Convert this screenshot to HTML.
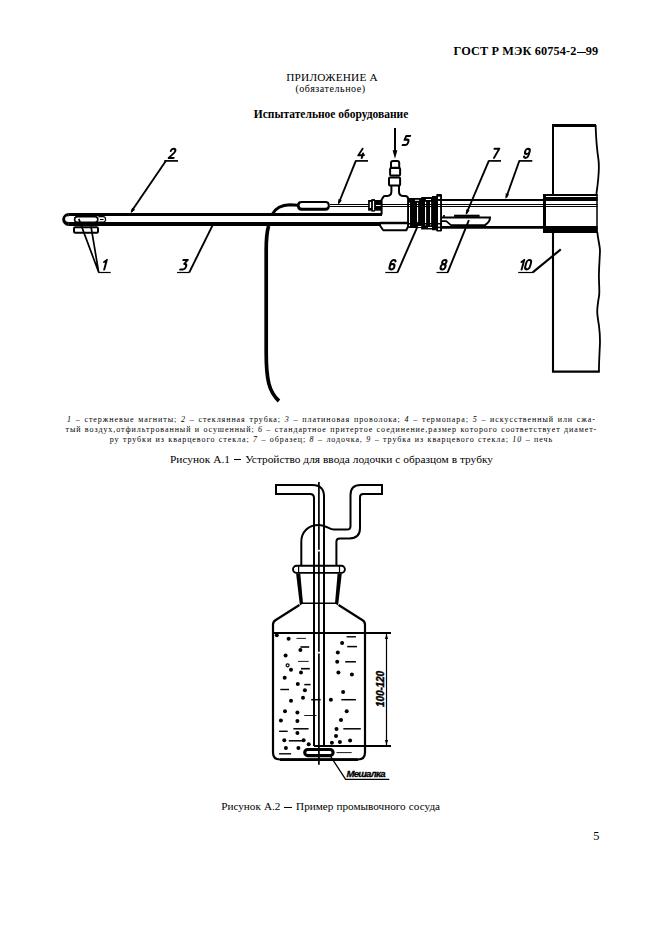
<!DOCTYPE html>
<html><head><meta charset="utf-8">
<style>
html,body{margin:0;padding:0;background:#fff;}
body{width:661px;height:936px;position:relative;overflow:hidden;font-family:"Liberation Serif",serif;color:#000;}
.t{position:absolute;white-space:nowrap;line-height:1;}
svg{position:absolute;left:0;top:0;}
.c{font-size:8px;letter-spacing:0.93px;}
.d{display:inline-block;height:0;border-top:0.9px solid #000;vertical-align:2.5px;}
</style></head><body>
<div class="t" id="hdr" style="left:453.5px;top:44.9px;font-size:12.3px;font-weight:bold;letter-spacing:0.12px;">ГОСТ Р МЭК 60754-2<span class="d" style="width:8.6px;border-top-width:1.4px;margin:0 0.2px 0 0.4px;vertical-align:1.8px"></span>99</div>
<div class="t" id="app" style="left:286.2px;top:72px;font-size:11.3px;letter-spacing:0.2px;">ПРИЛОЖЕНИЕ А</div>
<div class="t" id="obl" style="left:295.4px;top:84.4px;font-size:10px;letter-spacing:0.55px;">(обязательное)</div>
<div class="t" id="ttl" style="left:253.8px;top:108.6px;font-size:11.5px;font-weight:bold;">Испытательное оборудование</div>
<div class="t c" id="c1" style="left:67px;top:416.3px;word-spacing:0.87px;"><i>1</i> – стержневые магниты; <i>2</i> – стеклянная трубка; <i>3</i> – платиновая проволока; <i>4</i> – термопара; <i>5</i> – искусственный или сжа-</div>
<div class="t c" id="c2" style="left:65.5px;top:426.3px;word-spacing:0.5px;">тый воздух,отфильтрованный и осушенный; <i>6</i> – стандартное притертое соединение,размер которого соответствует диамет-</div>
<div class="t c" id="c3" style="left:109.7px;top:436.4px;word-spacing:0.53px;">ру трубки из кварцевого стекла; <i>7</i> – образец; <i>8</i> – лодочка, <i>9</i> – трубка из кварцевого стекла; <i>10</i> – печь</div>
<div class="t" id="f1" style="left:170px;top:453.6px;font-size:11.35px;word-spacing:0.17px;">Рисунок А.1 <span class="d" style="width:7.7px;margin:0 0.8px;"></span> Устройство для ввода лодочки с образцом в трубку</div>
<div class="t" id="f2" style="left:221.2px;top:801.2px;font-size:11.2px;word-spacing:0.36px;">Рисунок А.2 <span class="d" style="width:7.7px;margin:0 0.8px;"></span> Пример промывочного сосуда</div>
<div class="t" id="pn" style="left:593.2px;top:829.5px;font-size:12.3px;">5</div>
<div class="t" id="msh" style="left:346.6px;top:769.3px;font-size:9.6px;font-family:'Liberation Sans',sans-serif;font-weight:bold;font-style:italic;letter-spacing:-0.78px;-webkit-text-stroke:0.3px #000;">Мешалка</div>
<div class="t" id="dim" style="left:381px;top:688.9px;font-size:10.2px;font-family:'Liberation Sans',sans-serif;font-weight:bold;font-style:italic;letter-spacing:-0.2px;-webkit-text-stroke:0.4px #000;transform:translate(-50%,-50%) rotate(-90deg);">100-120</div>
<svg id="s1" width="661" height="936" viewBox="0 0 661 936" fill="none" stroke="#000">
<path d="M382,214.5 L68.5,214.5" stroke-width="3"/><path d="M68.7,213 A6.5,6.5 0 0 0 68.7,226 Z M68.7,216 A3.6,3 0 0 0 68.7,222 Z" fill="#000" fill-rule="evenodd" stroke="none"/>
<path d="M68.5,224 L381,224" stroke-width="4"/>
<rect x="74.6" y="216.6" width="23.2" height="5.6" rx="2.8" stroke-width="1.6"/>
<path d="M98.4,216.6 H103 A2.6,2.8 0 0 1 103,222.2 H98.4 M100,219.5 H103.5" stroke-width="1.2"/>
<rect x="74" y="227.2" width="24" height="5.6" rx="1.2" stroke-width="2"/>
<path d="M78.8,218.9 L98.7,272.3 M91,226.5 L98.7,272.3" stroke-width="1.7"/><path d="M98.2,272.5 H110.7" stroke-width="1.2"/>
<path d="M1.1,2.1 L3.4,0 L3.4,10" transform="matrix(0.950,0,-0.257,0.950,103.56,259.90)" stroke-width="2.11" stroke-linejoin="round" stroke-linecap="round"/>
<path d="M165.8,161 L131.4,211.5" stroke-width="1.9"/><path d="M164.3,160.9 H178" stroke-width="1.7"/>
<polygon points="130.6,213.2 132.1,207.7 135.1,209.7" fill="#000" stroke="none"/>
<path d="M0.3,2.4 C0.3,0.8 1.4,0 2.8,0 C4.2,0 5.2,0.9 5.2,2.4 C5.2,4.2 3.4,5.8 0,10 L5.4,10" transform="matrix(0.910,0,-0.246,0.910,171.16,148.80)" stroke-width="2.20" stroke-linejoin="round" stroke-linecap="round"/>
<path d="M189.3,272.3 L212.8,224.8" stroke-width="1.9"/><path d="M177,272.5 H189.6" stroke-width="1.2"/>
<path d="M0.6,0 L5.3,0 L2.6,4 C4.5,4 5.4,5.2 5.4,6.8 C5.4,8.8 4.3,10 2.9,10 L0,10" transform="matrix(0.950,0,-0.257,0.950,182.76,259.90)" stroke-width="2.11" stroke-linejoin="round" stroke-linecap="round"/>
<path d="M268.6,226 C266.8,232 266.2,240 266.2,250 L266.2,352 C266.2,380 269,392 279,401" stroke-width="3.7"/>
<path d="M272.3,214.2 C275,209 280.5,204.9 290,204.7 L298,205.3" stroke-width="2.9"/>
<path d="M301.5,201 H325.40000000000003 Q329.8,201 329.8,205.4 V206.29999999999998 Q329.8,210.7 325.40000000000003,210.7 H301.5 Q297.1,210.7 297.1,206.29999999999998 V205.4 Q297.1,201 301.5,201 Z M301.90000000000003,202.9 H325.5 Q327.8,202.9 327.8,205.20000000000002 V205.5 Q327.8,207.8 325.5,207.8 H301.90000000000003 Q299.6,207.8 299.6,205.5 V205.20000000000002 Q299.6,202.9 301.90000000000003,202.9 Z" fill="#000" fill-rule="evenodd" stroke="none"/>
<path d="M329.8,204.5 H368.5 M329.8,206.5 H368.5" stroke-width="1"/>
<path d="M355.8,160.8 L338.8,203" stroke-width="1.9"/><path d="M355.2,160.9 H368" stroke-width="1.7"/>
<polygon points="338.1,204.8 338.4,199.1 341.8,200.5" fill="#000" stroke="none"/>
<path d="M2.7,0 L0,7.2 L6.2,7.2 M4.6,5.2 L4.6,10" transform="matrix(0.910,0,-0.246,0.910,360.06,148.80)" stroke-width="2.20" stroke-linejoin="round" stroke-linecap="round"/>
<path d="M395,127.9 V153" stroke-width="2"/>
<polygon points="395.0,158.7 392.6,150.2 397.4,150.2" fill="#000" stroke="none"/>
<path d="M5.6,0 L1.3,0 L0.6,4.3 L3.3,3.9 C4.8,3.9 5.4,5 5.4,6.4 C5.4,8.6 4.3,10 2.9,10 L0,10" transform="matrix(0.910,0,-0.246,0.910,405.06,135.90)" stroke-width="2.20" stroke-linejoin="round" stroke-linecap="round"/>
<g stroke="none"><rect x="368.1" y="200" width="13.6" height="10.7" fill="#000"/><rect x="371.3" y="199.1" width="3.7" height="12.5" fill="#000"/><rect x="369.8" y="201.9" width="1.3" height="6.1" fill="#fff"/><rect x="372.9" y="200.9" width="1.2" height="9.3" fill="#fff"/><rect x="375.9" y="205" width="5.2" height="1" fill="#fff"/></g>
<path d="M391,167.8 V163.1 Q391,161.1 393,161.1 H397.2 Q399.2,161.1 399.2,163.1 V167.8 Z" stroke-width="2"/>
<rect x="390.1" y="168" width="10" height="7.6" rx="1" stroke-width="2"/>
<rect x="389" y="177.6" width="11.1" height="7.9" rx="1" stroke-width="2"/>
<path d="M391.4,186 V191.5 Q391.4,195.8 387.2,195.9 H385 Q384,195.9 383.4,196.8 L381.6,199.8 V214.5 M399,186 V191.5 Q399,195.8 403,195.9 H405 Q408.1,195.9 408.1,199 V226.5 L406.3,230.2 H383.2 L378.8,223.8" stroke-width="2" stroke-linejoin="round"/>
<path d="M380,223 H407.5" stroke-width="2.5"/>
<path d="M381,204.5 H597.6 M381,206.5 H597.6" stroke-width="1"/>
<path d="M408.4,198 H421.2 V197 H432 V196 H436.2 V195 Q436.2,194 437.2,194 H441 Q442,194 442,195 V230.6 Q442,231.6 441,231.6 H437.2 Q436.2,231.6 436.2,230.6 V230.3 H432 V229.4 H421.2 V228.1 H408.4 Z" fill="#000" stroke="none"/>
<g fill="#fff" stroke="none"><rect x="409" y="202.7" width="1" height="23.5"/><rect x="417" y="202.7" width="1.1" height="19.4"/><rect x="425" y="201.8" width="1.1" height="23.5"/><rect x="430" y="201.8" width="1.1" height="23.5"/><rect x="438" y="196.7" width="2.1" height="33.3"/><rect x="414.9" y="199.8" width="4.2" height="1"/><rect x="425.9" y="199" width="5.1" height="1"/><rect x="417.9" y="226" width="3.3" height="1"/><rect x="428" y="227" width="4" height="1"/></g>
<path d="M407.8,204.5 H442 M407.8,206.5 H442" stroke-width="1"/>
<path d="M408,223.7 H442" stroke-width="1.6"/>
<path d="M437,200 H442" stroke-width="2"/><path d="M437,227.4 H442" stroke-width="1.6"/>
<path d="M397.5,272.3 L417,227.6" stroke-width="1.9"/><path d="M385.3,272.5 H397.8" stroke-width="1.2"/>
<path d="M5,1.6 C4.6,0.5 3.8,0 2.8,0 C1.1,0 0.2,1.4 0.2,3.6 L0.2,7 C0.2,9 1.2,10 2.7,10 C4.2,10 5.2,9 5.2,7.1 C5.2,5.3 4.2,4.3 2.7,4.3 C1.3,4.3 0.4,5.2 0.2,6.6" transform="matrix(0.950,0,-0.257,0.950,391.26,259.90)" stroke-width="2.11" stroke-linejoin="round" stroke-linecap="round"/>
<path d="M441.5,200 H544" stroke-width="2"/>
<path d="M441.5,227.4 H544" stroke-width="2.9"/>
<path d="M441.6,217.6 H490 C490,220 489,222.8 485,225" stroke-width="2"/><path d="M486,225.2 H451 L446.2,221.2 H441.6 M444,215 V217" stroke-width="1.7"/>
<rect x="454.1" y="214.7" width="25.5" height="2.2" fill="#000" stroke="none"/>
<path d="M488.8,160.8 L466.4,213.5" stroke-width="1.9"/><path d="M488.2,160.9 H501" stroke-width="1.7"/>
<polygon points="465.8,214.9 466.3,209.2 469.6,210.6" fill="#000" stroke="none"/>
<path d="M0,0 L5.3,0 L2.2,10" transform="matrix(0.910,0,-0.246,0.910,494.46,148.80)" stroke-width="2.20" stroke-linejoin="round" stroke-linecap="round"/>
<path d="M447.7,272.3 L468.9,220.2" stroke-width="1.9"/><path d="M436.5,272.5 H448" stroke-width="1.2"/>
<path d="M2.7,4.5 C1.3,4.5 0.5,3.5 0.5,2.3 C0.5,1 1.3,0 2.7,0 C4.1,0 4.9,1 4.9,2.3 C4.9,3.5 4.1,4.5 2.7,4.5 C1.1,4.5 0.2,5.7 0.2,7.2 C0.2,8.9 1.2,10 2.7,10 C4.2,10 5.2,8.9 5.2,7.2 C5.2,5.7 4.3,4.5 2.7,4.5" transform="matrix(0.950,0,-0.257,0.950,442.37,259.90)" stroke-width="2.11" stroke-linejoin="round" stroke-linecap="round"/>
<path d="M519.4,160.8 L506.2,197.5" stroke-width="1.9"/><path d="M518.8,160.9 H532.3" stroke-width="1.7"/>
<polygon points="505.6,199.0 505.7,193.3 509.1,194.5" fill="#000" stroke="none"/>
<path d="M0.4,8.4 C0.8,9.5 1.6,10 2.6,10 C4.3,10 5.2,8.6 5.2,6.4 L5.2,3 C5.2,1 4.2,0 2.7,0 C1.2,0 0.2,1 0.2,2.9 C0.2,4.7 1.2,5.7 2.7,5.7 C4.1,5.7 5,4.8 5.2,3.4" transform="matrix(0.910,0,-0.246,0.910,525.66,148.80)" stroke-width="2.20" stroke-linejoin="round" stroke-linecap="round"/>
<path d="M553,194 V125.5" stroke-width="2"/><path d="M552,125.5 H596" stroke-width="3"/>
<path d="M553,232 V371.6 H599.8" stroke-width="2.1"/>
<path d="M595.6,125 C596,138 597,150 598.5,160 C599.3,166 598.4,180 596.4,194 M597.3,232 C598,240 600,246 600,251 C599.5,262 598.9,270 598.9,276 C599,285 599.6,290 599.2,295 C598,302 597.2,308 597.2,312 C597.5,318 598.5,322 599,326 C599.8,332 600,338 600,342 C599.8,350 599,358 598.9,371.6" stroke-width="1.8"/>
<path d="M544.5,194 V233" stroke-width="3"/>
<path d="M543,195 H597.6" stroke-width="2"/>
<path d="M545,199 H597.6" stroke-width="4"/>
<path d="M543,229.5 H597.6" stroke-width="7"/>
<path d="M597,194.2 V233" stroke-width="1.5"/>
<path d="M532.7,272.4 L560.8,249.4" stroke-width="2.1"/><path d="M518.2,272.5 H533.2" stroke-width="1.2"/>
<path d="M1.1,2.1 L3.4,0 L3.4,10" transform="matrix(0.950,0,-0.257,0.950,520.97,259.90)" stroke-width="2.11" stroke-linejoin="round" stroke-linecap="round"/>
<path d="M2.7,0 C1.1,0 0.2,1.3 0.2,3.2 L0.2,6.8 C0.2,8.7 1.1,10 2.7,10 C4.3,10 5.2,8.7 5.2,6.8 L5.2,3.2 C5.2,1.3 4.3,0 2.7,0" transform="matrix(0.950,0,-0.257,0.950,526.87,259.90)" stroke-width="2.11" stroke-linejoin="round" stroke-linecap="round"/>
</svg>
<svg id="s2" width="661" height="936" viewBox="0 0 661 936" fill="none" stroke="#000">
<path d="M318.9,482 V549.7 M318.9,551.5 V651.8 M318.9,653.6 V764.7" stroke-width="1.7"/>
<path d="M276,485 H312.5 Q324,485 324,496.5 V746 M276,484 V494 H310 Q314,494 314,498 V746" stroke-width="2"/>
<path d="M382,485 H360.5 Q350.5,485 350.5,495 V526 Q350.5,529.6 347,529.6 H334 C329,529.6 326.5,525 319,525 C308,525 301.3,532 301.3,542 V565.5" stroke-width="2"/>
<path d="M382,484 V494 H363.2 Q360,494 360,497.2 V528 Q360,538.4 349.4,538.4 H339.7 Q336.4,538.4 336.4,541.7 V565.5" stroke-width="2"/>
<rect x="293" y="565.8" width="51.9" height="7.1" rx="3.55" stroke-width="1.9"/>
<path d="M298.6,566 V573 M339.5,566 V573" stroke-width="1.2"/>
<polygon points="296.1,573.5 300.3,573.5 303,603.4 299.9,605.6" fill="#000" stroke="none"/>
<polygon points="341.8,573.5 337.6,573.5 335,603.4 338.1,605.6" fill="#000" stroke="none"/>
<path d="M301.5,603.3 H336.8" stroke-width="1.5"/>
<path d="M299.4,605 L275.4,620.3 Q273,621.8 273,624.8 V752.5 Q273,759.5 280,759.5 H358 Q365,759.5 365,752.5 V624.8 Q365,621.8 362.6,620.3 L338.6,605" stroke-width="2.2"/>
<path d="M280,759.6 H358" stroke-width="2.8"/>
<path d="M273,633 H391" stroke-width="2"/>
<path d="M314,746 H391" stroke-width="2"/>
<path d="M386.5,634 V745" stroke-width="1.2"/>
<polygon points="386.5,634.0 388.1,639.0 384.9,639.0" fill="#000" stroke="none"/>
<polygon points="386.5,745.0 384.9,740.0 388.1,740.0" fill="#000" stroke="none"/>
<rect x="304.7" y="749.5" width="28.4" height="6.1" rx="3.05" stroke-width="3.1"/>
<path d="M330.8,756.7 L345.6,779.4 H389.3" stroke-width="1.3"/>
<g fill="#000" stroke="none"><circle cx="276.8" cy="635.2" r="2"/><circle cx="288.6" cy="638.8" r="2"/><circle cx="300.4" cy="650" r="2"/><circle cx="285.6" cy="655.5" r="2"/><circle cx="291" cy="669.8" r="2"/><circle cx="301" cy="672.6" r="2"/><circle cx="284.7" cy="677.7" r="2"/><circle cx="297.8" cy="684" r="2"/><circle cx="304.9" cy="690.3" r="2"/><circle cx="303" cy="697.8" r="2"/><circle cx="291" cy="700.7" r="2"/><circle cx="285" cy="711.3" r="2"/><circle cx="297.4" cy="712.5" r="2"/><circle cx="280.9" cy="720.4" r="2"/><circle cx="297.4" cy="720.9" r="2"/><circle cx="297.4" cy="732.9" r="2"/><circle cx="284.3" cy="740.2" r="2"/><circle cx="303.6" cy="740.2" r="2"/><circle cx="285.9" cy="748.1" r="2"/><circle cx="298.4" cy="748.1" r="2"/><circle cx="342.1" cy="643.1" r="2"/><circle cx="337.8" cy="652.5" r="2"/><circle cx="337.2" cy="661.8" r="2"/><circle cx="338.4" cy="672.6" r="2"/><circle cx="351.9" cy="674.6" r="2"/><circle cx="343.1" cy="691.9" r="2"/><circle cx="330.9" cy="699.7" r="2"/><circle cx="346.7" cy="711.3" r="2"/><circle cx="341" cy="720" r="2"/><circle cx="336.5" cy="729" r="2"/><circle cx="336" cy="735.9" r="2"/><circle cx="350.1" cy="740.4" r="2"/><circle cx="339.9" cy="742" r="2"/><circle cx="331.9" cy="742.7" r="2"/><circle cx="308.7" cy="744.3" r="2"/></g>
<circle cx="287.6" cy="665.3" r="1.5" stroke-width="1.2"/>
<path d="M296.5,638.4 H305.9" stroke-width="0.9"/><path d="M300.4,647 H309.2" stroke-width="1.6"/><path d="M298,661.4 H308.7" stroke-width="0.9"/><path d="M301,668.7 H309.8" stroke-width="1.6"/><path d="M304.3,684.6 H310.6" stroke-width="1.5"/><path d="M280.3,689.5 H289" stroke-width="1.4"/><path d="M311.2,699.7 H320.7" stroke-width="1.5"/><path d="M304.3,715.5 H316.5" stroke-width="0.9"/><path d="M346.6,636.8 H355.9" stroke-width="1.4"/><path d="M347.2,646.6 H357" stroke-width="1.5"/><path d="M345.2,661.8 H355.9" stroke-width="1.5"/><path d="M341.3,699.7 H355.9" stroke-width="1.5"/><path d="M279.1,731.3 H287.7" stroke-width="1.4"/><path d="M293.4,728.8 H308.6" stroke-width="1.5"/><path d="M288.8,740.8 H304" stroke-width="1.5"/><path d="M343.3,728.8 H360.8" stroke-width="1.5"/><path d="M279.1,753.8 H291.1" stroke-width="1.4"/><path d="M336.5,752.6 H351.7" stroke-width="0.9"/>
</svg>
</body></html>
